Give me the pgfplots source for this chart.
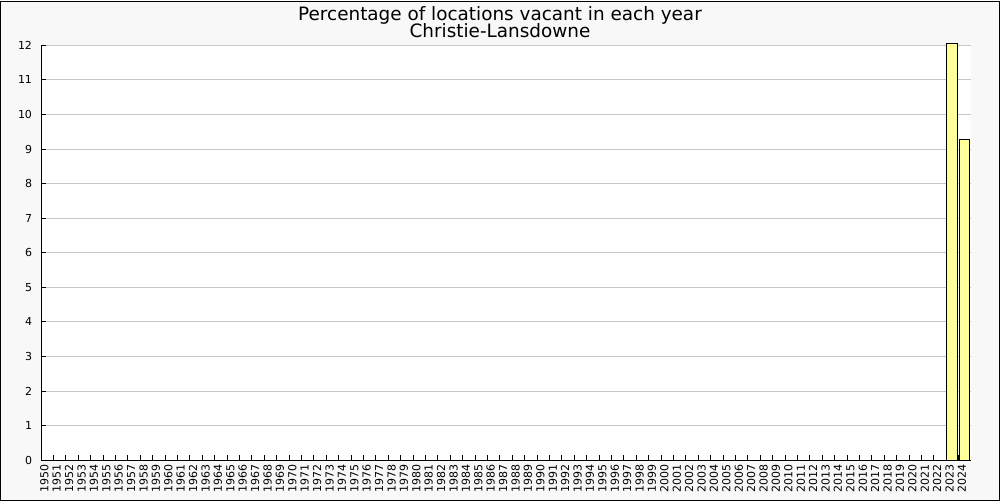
\documentclass[border=0pt]{standalone}
\usepackage{fontspec}
\setmainfont{DejaVu Sans}
\usepackage{pgfplots}
\pgfplotsset{compat=1.18}
\definecolor{bg}{HTML}{F8F8F8}
\definecolor{baryellow}{HTML}{FFFF99}
\definecolor{gridgray}{HTML}{C8C8C8}
\begin{document}
\begin{tikzpicture}[x=1pt,y=1pt]
\fill[bg] (0,0) rectangle (500,250);
\begin{axis}[
  at={(20.5pt,20.5pt)}, anchor=south west,
  width=465pt, height=207.5pt, scale only axis,
  xmin=0, xmax=75, ymin=0, ymax=12,
  axis x line*=bottom, axis y line*=left,
  axis background/.style={fill=white},
  ytick={0,...,12}, ymajorgrids,
  grid style={gridgray, line width=0.5pt},
  yticklabel={\pgfmathparse{int(\tick)}\pgfmathresult},
  yticklabel style={font=\fontsize{5.5}{6}\selectfont, inner sep=0pt, xshift=-4.3pt},
  xtick={0,...,74},
  xticklabel={\pgfmathparse{int(1950+\tick)}\pgfmathresult},
  xticklabel style={rotate=90, anchor=east, font=\fontsize{5.5}{6}\selectfont, inner sep=0pt, yshift=-1.67pt, xshift=-2pt},
  tick align=inside, major tick length=2.5pt,
  tick style={black, line width=0.5pt},
  axis line style={black, line width=0.5pt},
  clip=false,
]
\addplot[ybar, bar width=0.86, fill=baryellow, draw=black, line width=0.5pt] coordinates {(73.47,12.05) (74.47,9.27)};
\end{axis}
\node[anchor=base, font=\fontsize{9.2}{10}\selectfont] at (250,240.3) {Percentage of locations vacant in each year};
\node[anchor=base, font=\fontsize{9.2}{10}\selectfont] at (250,232) {Christie-Lansdowne};
\draw[black, line width=0.5pt] (0.25,0.25) rectangle (499.75,249.75);
\end{tikzpicture}
\end{document}
